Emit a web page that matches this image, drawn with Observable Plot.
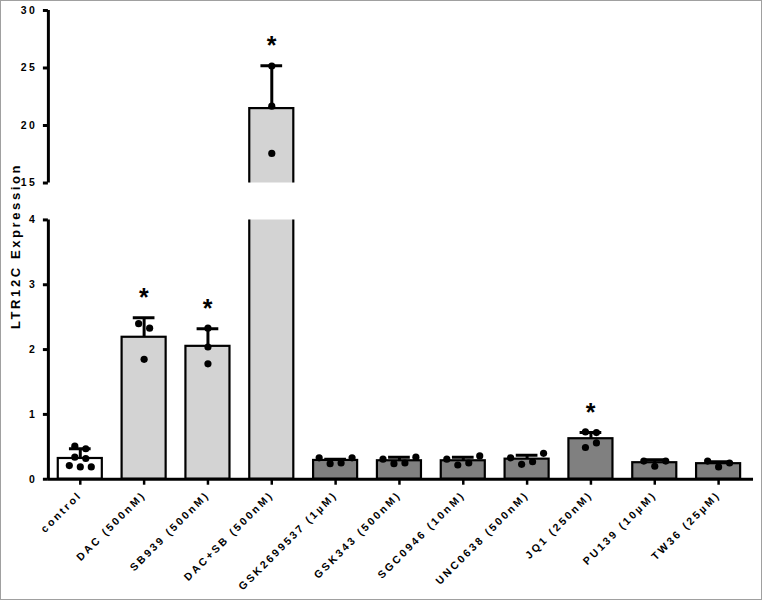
<!DOCTYPE html>
<html><head><meta charset="utf-8">
<script src="https://cdn.jsdelivr.net/npm/d3@7"></script>
<script src="https://cdn.jsdelivr.net/npm/@observablehq/plot@0.6"></script>
<style>
body{margin:0;background:#fff}
#wrap{position:relative;width:762px;height:600px;border:1px solid #a0a0a0;box-sizing:border-box;overflow:hidden;background:#fff}
#wrap svg{position:absolute;left:-1px;top:-1px}
#ylab{position:absolute;left:14px;top:245px;transform:translate(-50%,-50%) rotate(-90deg);font:bold 13px "Liberation Sans",Arial,sans-serif;letter-spacing:2.6px;white-space:nowrap;color:#000}
</style></head><body><div id="wrap"><div id="ylab">LTR12C Expression</div></div>
<script>
// ---- data ----
const categories = ["control","DAC (500nM)","SB939 (500nM)","DAC+SB (500nM)","GSK2699537 (1µM)","GSK343 (500nM)","SGC0946 (10nM)","UNC0638 (500nM)","JQ1 (250nM)","PU139 (10µM)","TW36 (25µM)"];
const means = [0.32, 2.19, 2.05, 21.47, 0.29, 0.285, 0.285, 0.31, 0.625, 0.255, 0.24];
const errorTops = [0.47, 2.49, 2.32, 25.2, 0.31, 0.34, 0.34, 0.37, 0.72, 0.30, 0.27];
const replicates = [
  [0.51,0.47,0.34,0.32,0.21,0.19,0.19],
  [2.40,2.33,1.85],
  [2.33,2.04,1.78],
  [25.17,21.68,17.57],
  [0.33,0.24,0.25,0.33],
  [0.31,0.24,0.25,0.34],
  [0.31,0.22,0.25,0.36],
  [0.33,0.23,0.27,0.40],
  [0.73,0.49,0.56,0.72],
  [0.28,0.20,0.28],
  [0.28,0.19,0.25]
];
const groups = ["control","epigenetic","epigenetic","epigenetic","other","other","other","other","other","other","other"];
const significant = [false,true,true,true,false,false,false,false,true,false,false];
const lowerTicks = [0,1,2,3,4];
const upperTicks = [15,20,25,30];

// ---- layout / style ----
const W = 762, ML = 48, MR = 7;
const xDomain = [-0.5, 10.547];
const BAR_HALF = 0.345, CAP_HALF = 0.17;
const fills = {control:"#ffffff", epigenetic:"#d3d3d3", other:"#808080"};
const lower = {height:600, marginTop:220, marginBottom:120, domain:[0,4], ticks:lowerTicks, xAxis:true};
const upper = {height:200, marginTop:10, marginBottom:17, domain:[15,30], ticks:upperTicks, xAxis:false};

const yLower = d3.scaleLinear(lower.domain, [lower.height-lower.marginBottom, lower.marginTop]);
const yUpper = d3.scaleLinear(upper.domain, [upper.height-upper.marginBottom, upper.marginTop]);
const pxY = v => v <= lower.domain[1] ? yLower(v) : yUpper(v);
const pxPerX = (W-ML-MR)/(xDomain[1]-xDomain[0]);

const bars = categories.map((c,i)=>({i, c, mean:means[i], top:errorTops[i], group:groups[i], sig:significant[i]}));
const points = [];
replicates.forEach((vals,i)=>{
  const order = vals.map((v,k)=>({v,k,py:pxY(v)})).sort((a,b)=>a.py-b.py);
  const rows = [];
  let prev = null;
  for (const p of order) {
    if (prev && p.py - prev.py < 6.5) rows[rows.length-1].push(p); else rows.push([p]);
    prev = p;
  }
  rows.forEach(row=>{
    row.sort((a,b)=>a.k-b.k);
    row.forEach((p,j)=>points.push({i, v:p.v, off:(j-(row.length-1)/2)*11/pxPerX}));
  });
});

function panel(cfg){
  const inDomain = v => v >= cfg.domain[0] && v <= cfg.domain[1];
  const marks = [
    Plot.rectY(bars, {x1:d=>d.i-BAR_HALF, x2:d=>d.i+BAR_HALF, y1:0, y2:"mean", fill:d=>fills[d.group], stroke:"black", strokeWidth:2.2, clip:true}),
    Plot.ruleX(bars, {x:"i", y1:"mean", y2:"top", stroke:"black", strokeWidth:3, clip:true}),
    Plot.ruleY(bars, {y:"top", x1:d=>d.i-CAP_HALF, x2:d=>d.i+CAP_HALF, stroke:"black", strokeWidth:3, clip:true}),
    Plot.dot(points.filter(d=>inDomain(d.v)), {x:d=>d.i+d.off, y:"v", r:3.6, fill:"black"}),
    Plot.text(bars.filter(d=>d.sig && inDomain(d.top)), {x:"i", y:"top", text:()=>"*", dy:-20, dx:1, fontSize:25, fontWeight:"bold", lineAnchor:"middle", fill:"black"}),
    Plot.ruleX([xDomain[0]], {y1:cfg.domain[0], y2:cfg.domain[1], stroke:"black", strokeWidth:3}),
    Plot.axisY(cfg.ticks, {tickSize:5, strokeWidth:3, tickPadding:6, tickFormat:d3.format("d"), fontWeight:"bold", fontSize:10.5, label:null})
  ];
  if (cfg.xAxis) {
    marks.push(Plot.ruleY([0], {stroke:"black", strokeWidth:3}));
    marks.push(Plot.axisX(categories.map((c,i)=>i), {tickFormat:i=>categories[i], tickRotate:-45, tickSize:6, strokeWidth:2.5, tickPadding:8, fontWeight:"bold", fontSize:10.6, label:null}));
  }
  return Plot.plot({
    width:W, height:cfg.height, marginLeft:ML, marginRight:MR, marginTop:cfg.marginTop, marginBottom:cfg.marginBottom,
    style:"background:transparent;overflow:visible;font-family:'Liberation Sans',Arial,sans-serif;letter-spacing:2.5px;color:black;",
    x:{type:"linear", domain:xDomain, axis:null},
    y:{type:"linear", domain:cfg.domain, axis:null},
    marks
  });
}
const wrap = document.getElementById("wrap");
wrap.appendChild(panel(lower));
wrap.appendChild(panel(upper));
</script></body></html>
